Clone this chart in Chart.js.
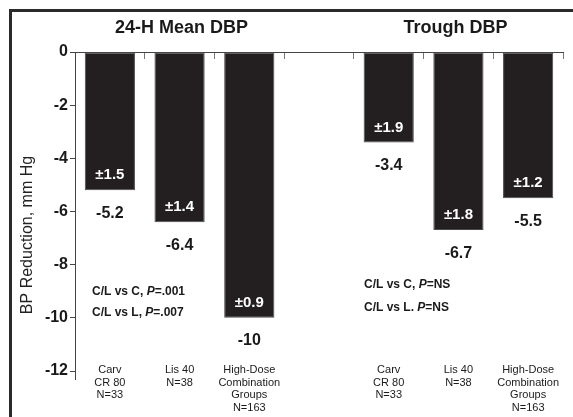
<!DOCTYPE html>
<html>
<head>
<meta charset="utf-8">
<script src="https://cdn.jsdelivr.net/npm/chart.js@4"></script>
<style>
  html, body { margin: 0; padding: 0; background: #fff; }
</style>
</head>
<body>
<canvas id="chart1" width="573" height="417"></canvas>
<script>
// Datos del grafico
const groupTitles = ["24-H Mean DBP", "Trough DBP"];
const groupLabels = [["Carv", "CR 80", "N=33"], ["Lis 40", "N=38"], ["High-Dose", "Combination", "Groups", "N=163"]];
const meanDBP = [-5.2, -6.4, -10];
const meanSE = [1.5, 1.4, 0.9];
const troughDBP = [-3.4, -6.7, -5.5];
const troughSE = [1.9, 1.8, 1.2];
const yTicks = [0, -2, -4, -6, -8, -10, -12];
const meanNotes = [["C/L vs C, ", "=.001"], ["C/L vs L, ", "=.007"]];
const troughNotes = [["C/L vs C, ", "=NS"], ["C/L vs L. ", "=NS"]];

// categorias: 3 barras, hueco, 3 barras
const values = meanDBP.concat([null], troughDBP);
const errors = meanSE.concat([null], troughSE);
const labels = values.map((v, i) => String(i));

const FONT = "'Liberation Sans', Arial, sans-serif";
Chart.defaults.font.family = FONT;

function drawNote(ctx, x, y, note) {
  ctx.font = "bold 12px " + FONT;
  ctx.fillText(note[0], x, y);
  x += ctx.measureText(note[0]).width;
  ctx.font = "italic bold 12px " + FONT;
  ctx.fillText("P", x, y);
  x += ctx.measureText("P").width;
  ctx.font = "bold 12px " + FONT;
  ctx.fillText(note[1], x, y);
}

const textPlugin = {
  id: "textos",
  afterDraw(chart) {
    const ctx = chart.ctx;
    const xs = chart.scales.x;
    const ys = chart.scales.y;
    ctx.save();

    // marco
    ctx.fillStyle = "#2b2b2b";
    ctx.fillRect(9, 9, 564, 3);
    ctx.fillRect(9, 9, 3, 408);

    // titulos de grupo
    ctx.fillStyle = "#1a1a1a";
    ctx.textAlign = "center";
    ctx.textBaseline = "middle";
    ctx.font = "bold 18px " + FONT;
    ctx.fillText(groupTitles[0], (xs.getPixelForValue(0) + xs.getPixelForValue(2)) / 2 + 2, 28);
    ctx.fillText(groupTitles[1], (xs.getPixelForValue(4) + xs.getPixelForValue(6)) / 2 - 3, 28);

    // etiquetas de valores
    values.forEach((v, i) => {
      if (v === null) return;
      const x = xs.getPixelForValue(i);
      const yb = ys.getPixelForValue(v);
      ctx.fillStyle = "#ffffff";
      ctx.font = "bold 15px " + FONT;
      ctx.fillText("±" + errors[i].toFixed(1), x, yb - 15);
      ctx.fillStyle = "#1a1a1a";
      ctx.font = "bold 16px " + FONT;
      ctx.fillText(String(v), x, yb + 23);
    });

    // etiquetas de categorias
    ctx.font = "11px " + FONT;
    ctx.fillStyle = "#1a1a1a";
    const yBase = ys.getPixelForValue(-12) - 1;
    [0, 4].forEach(start => {
      groupLabels.forEach((lines, j) => {
        const x = xs.getPixelForValue(start + j);
        lines.forEach((t, k) => ctx.fillText(t, x, yBase + k * 12.5));
      });
    });

    // notas P
    ctx.textAlign = "left";
    ctx.fillStyle = "#1a1a1a";
    drawNote(ctx, 92, ys.getPixelForValue(-9.03), meanNotes[0]);
    drawNote(ctx, 92, ys.getPixelForValue(-9.82), meanNotes[1]);
    drawNote(ctx, 364, ys.getPixelForValue(-8.77), troughNotes[0]);
    drawNote(ctx, 364, ys.getPixelForValue(-9.63), troughNotes[1]);

    // titulo eje y
    ctx.translate(28, 235);
    ctx.rotate(-Math.PI / 2);
    ctx.textAlign = "center";
    ctx.font = "16px " + FONT;
    ctx.fillStyle = "#222";
    ctx.fillText("BP Reduction, mm Hg", 0, 0);
    ctx.restore();
  }
};

new Chart(document.getElementById("chart1"), {
  type: "bar",
  data: {
    labels: labels,
    datasets: [{
      data: values,
      backgroundColor: "#231f20",
      borderColor: "#4a4a4a",
      borderWidth: 1,
      borderSkipped: false,
      barPercentage: 0.72,
      categoryPercentage: 1
    }]
  },
  options: {
    responsive: false,
    animation: false,
    layout: { padding: { top: 52, left: 0, right: 10, bottom: 38 } },
    plugins: { legend: { display: false }, tooltip: { enabled: false } },
    scales: {
      x: {
        position: { y: 0 },
        grid: { drawOnChartArea: false, drawTicks: true, tickLength: 6, color: "#777" },
        border: { display: true, color: "#444", width: 1 },
        ticks: { display: false }
      },
      y: {
        min: -12.3,
        max: 0,
        afterFit(scale) { scale.width = 75; },
        afterBuildTicks(scale) { scale.ticks = yTicks.map(v => ({ value: v })); },
        grid: { drawOnChartArea: false, drawTicks: true, tickLength: 5, color: "#444" },
        border: { display: true, color: "#444", width: 1 },
        ticks: {
          padding: 2,
          color: "#1a1a1a",
          font: { size: 16, weight: "bold" },
          callback: v => String(v)
        }
      }
    }
  },
  plugins: [textPlugin]
});
</script>
</body>
</html>
